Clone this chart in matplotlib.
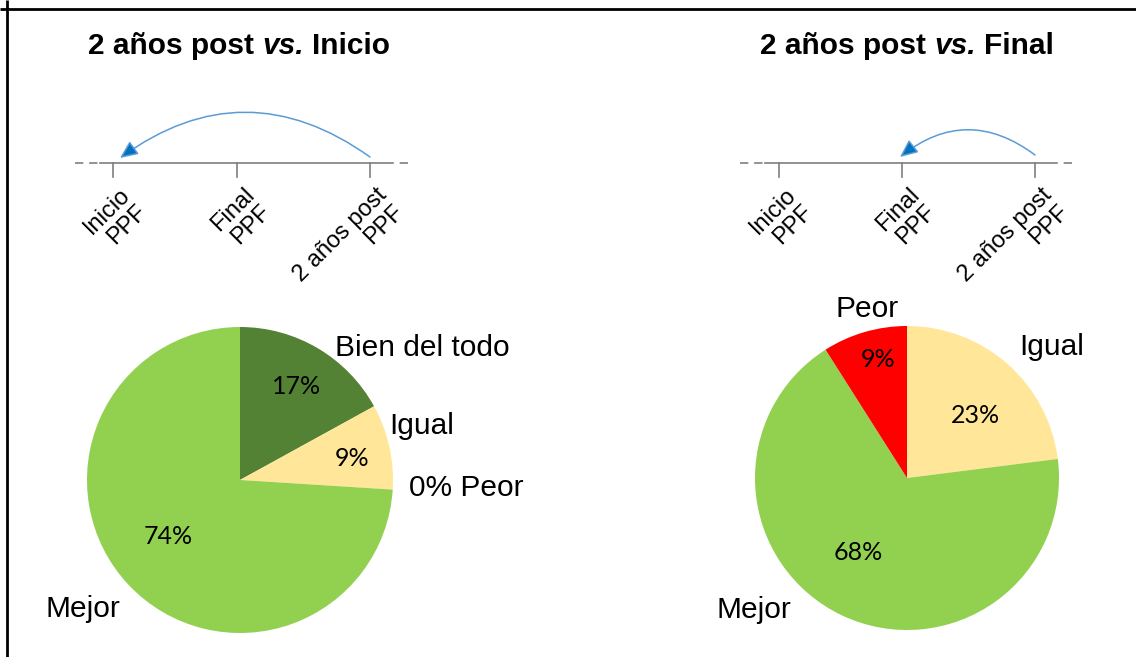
import matplotlib
matplotlib.use("Agg")
import matplotlib.pyplot as plt

# data
left_labels = ["Bien del todo", "Igual", "Peor", "Mejor"]
left_values = [17, 9, 0, 74]
right_labels = ["Igual", "Mejor", "Peor"]
right_values = [23, 68, 9]
colors = {"Bien del todo": "#548235", "Igual": "#FFE699",
          "Peor": "#FF0000", "Mejor": "#92D050"}
timeline_labels = ["Inicio\nPPF", "Final\nPPF", "2 años post\nPPF"]
titles = [("2 años post", "vs.", "Inicio"), ("2 años post", "vs.", "Final")]

# label positions in pie units (layout)
left_name_pos = [(1.19, 0.86), (1.19, 0.35), (1.48, -0.05), (-1.03, -0.84)]
left_pct_pos = [(0.37, 0.61), (0.73, 0.14), None, (-0.47, -0.37)]
right_name_pos = [(0.95, 0.86), (-1.01, -0.87), (-0.26, 1.11)]
right_pct_pos = [(0.45, 0.41), (-0.32, -0.49), (-0.19, 0.78)]

W, H = 1136, 657
fig = plt.figure(figsize=(W / 100, H / 100), dpi=100)
ax0 = fig.add_axes([0, 0, 1, 1])
ax0.set_xlim(0, W)
ax0.set_ylim(H, 0)
ax0.axis("off")

# frame (top and left only)
ax0.plot([7, 7], [0, H], color="black", lw=2, solid_capstyle="butt")
ax0.plot([0, W], [9, 9], color="black", lw=2, solid_capstyle="butt")

name_font = dict(family="Liberation Sans", fontsize=21.5, color="black")
pct_font = dict(family="Lato", fontsize=18, color="black")


def draw_title(x, parts):
    t1 = ax0.text(x, 60, parts[0], family="Liberation Sans", fontsize=21.5,
                  weight="bold", va="bottom")
    t2 = ax0.annotate(parts[1], xy=(1, 0), xycoords=t1, xytext=(6, 0),
                      textcoords="offset points", family="Liberation Sans",
                      fontsize=21.5, weight="bold", style="italic", va="bottom")
    ax0.annotate(parts[2], xy=(1, 0), xycoords=t2, xytext=(6, 0),
                 textcoords="offset points", family="Liberation Sans",
                 fontsize=21.5, weight="bold", va="bottom")


def draw_timeline(x0, x1, ticks, arc_from, arc_to, rad):
    gray = "#7F7F7F"
    y = 163
    dash = (0, (5, 3.5))
    ax0.plot([x0, x0 + 25], [y, y], color=gray, lw=1.2, ls=dash)
    ax0.plot([x0 + 25, x1 - 23], [y, y], color=gray, lw=1.2)
    ax0.plot([x1, x1 - 23], [y, y], color=gray, lw=1.2, ls=dash)
    for tx, lab in zip(ticks, timeline_labels):
        ax0.plot([tx, tx], [y, y + 14], color=gray, lw=1.2)
        ax0.text(tx + 6, y + 21, lab, rotation=45, rotation_mode="anchor",
                 ha="right", va="top", family="Liberation Sans", fontsize=17,
                 linespacing=1.1)
    ax0.annotate("", xy=arc_to, xytext=arc_from,
                 arrowprops=dict(arrowstyle="-|>,head_length=0.9,head_width=0.4",
                                 connectionstyle=f"arc3,rad={rad}",
                                 edgecolor="#5B9BD5", facecolor="#0070C0",
                                 lw=1.1, shrinkA=0, shrinkB=0,
                                 mutation_scale=12))


def draw_pie(cx, cy, r, labels, values, name_pos, pct_pos):
    ax = fig.add_axes([(cx - r) / W, 1 - (cy + r) / H, 2 * r / W, 2 * r / H])
    ax.pie(values, colors=[colors[l] for l in labels], startangle=90,
           counterclock=False, wedgeprops=dict(linewidth=0))
    ax.set_xlim(-1, 1)
    ax.set_ylim(-1, 1)
    ax.set_aspect("equal")
    for lab, v, npos, ppos in zip(labels, values, name_pos, pct_pos):
        if v == 0:
            ax.text(npos[0], npos[1], f"{v}% {lab}", ha="center", va="center",
                    **name_font)
            continue
        ax.text(npos[0], npos[1], lab, ha="center", va="center", **name_font)
        ax.text(ppos[0], ppos[1], f"{v}%", ha="center", va="center", **pct_font)


draw_title(88, titles[0])
draw_title(760, titles[1])

draw_timeline(75, 408, [113, 237, 370], (370, 157), (120, 158), 0.36)
draw_timeline(740, 1072, [779, 902, 1035], (1035, 155), (900, 157), 0.385)

draw_pie(240, 480, 153, left_labels, left_values, left_name_pos, left_pct_pos)
draw_pie(907, 478, 152, right_labels, right_values, right_name_pos, right_pct_pos)

fig.savefig("out.png", dpi=100)
